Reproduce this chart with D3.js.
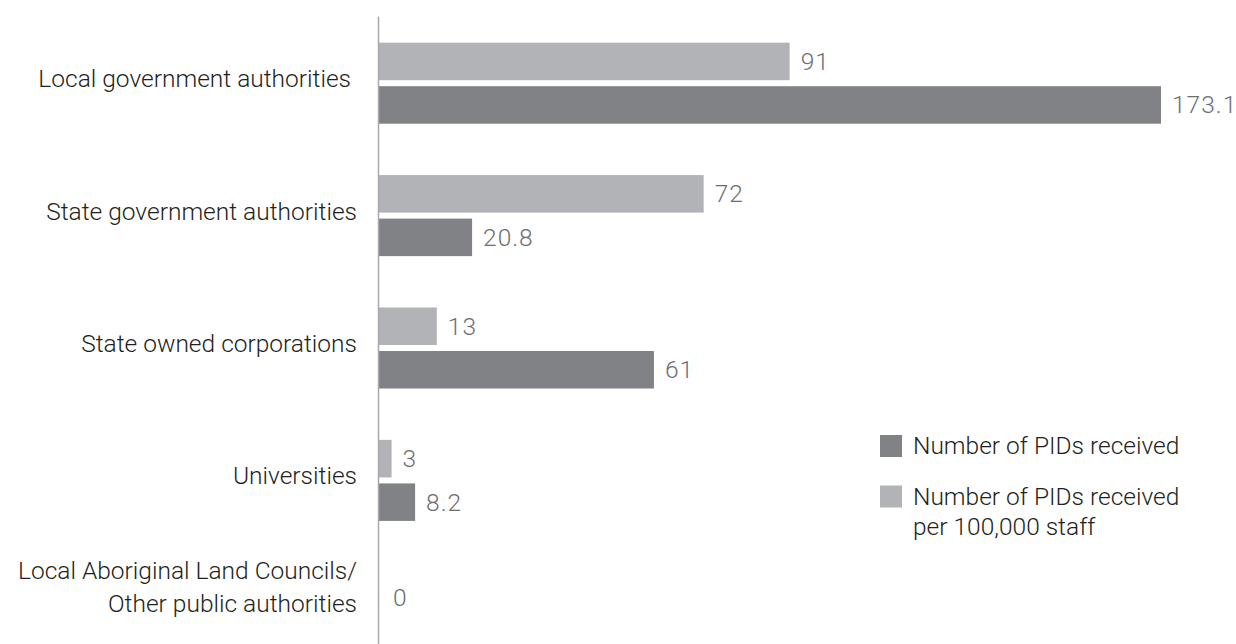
<!DOCTYPE html>
<html>
<head>
<meta charset="utf-8">
<script src="https://cdn.jsdelivr.net/npm/d3@7"></script>
<style>
  html, body { margin: 0; padding: 0; background: #fff; }
  svg { display: block; }
  text { font-family: Roboto, "Liberation Sans", sans-serif; font-weight: 300; }
</style>
</head>
<body>
<svg id="chart" width="1236" height="644"></svg>
<script>
const categories = [
  ["Local government authorities\u00a0"],
  ["State government authorities"],
  ["State owned corporations"],
  ["Universities"],
  ["Local Aboriginal Land Councils/", "Other public authorities"]
];
const perStaff = [91, 72, 13, 3, 0];
const received = [173.1, 20.8, 61, 8.2, 0];
const seriesNames = ["Number of PIDs received", "Number of PIDs received\nper 100,000 staff"];

const colors = { received: "#808285", perStaff: "#b1b3b6" };
const FS = 24.5;

const svg = d3.select("#chart");
const axisX = 378;

const x = d3.scaleLinear().domain([0, 173.1]).range([axisX, 1161]);
const catKeys = categories.map((c, i) => i);
const y = d3.scaleBand().domain(catKeys).range([17, 679]).paddingInner(0.388).paddingOuter(0.194);
const sub = d3.scaleBand().domain(["perStaff", "received"]).range([0, y.bandwidth()]).paddingInner(0.138);

const rows = catKeys.map(i => ({ i, perStaff: perStaff[i], received: received[i] }));

// bars
const g = svg.append("g");
rows.forEach(r => {
  const bothZero = !r.perStaff && !r.received;
  ["perStaff", "received"].forEach(k => {
    const v = r[k];
    if (!v) return;
    const y0 = y(r.i) + sub(k);
    g.append("rect")
      .attr("x", x(0)).attr("y", y0)
      .attr("width", x(v) - x(0)).attr("height", sub.bandwidth())
      .attr("fill", colors[k]);
    g.append("text")
      .attr("x", x(v) + 11).attr("y", y0 + sub.bandwidth() / 2 + 8.5)
      .attr("font-size", FS).attr("fill", "#6d6e71").attr("letter-spacing", 1)
      .text(d3.format("")(v));
  });
  if (bothZero) {
    g.append("text")
      .attr("x", x(0) + 15).attr("y", y(r.i) + y.bandwidth() / 2 - 15 + 8.5)
      .attr("font-size", FS).attr("fill", "#6d6e71")
      .text("0");
  }
});

// axis line
const yAxis = d3.axisLeft(d3.scaleLinear().range([16, 644])).ticks(0).tickSize(0);
const ag = svg.append("g").attr("transform", `translate(${axisX},0)`).call(yAxis);
ag.select(".domain").attr("stroke", "#a7a9ac").attr("stroke-width", 1.5);

// category labels
rows.forEach(r => {
  const lines = categories[r.i];
  const cy = y(r.i) + y.bandwidth() / 2;
  const lh = 33;
  const center = lines.length > 1 ? cy - 26 : cy - 4.5;
  const firstBase = center + 8.5 - (lines.length - 1) * lh / 2;
  const t = svg.append("text").attr("text-anchor", "end").attr("font-size", FS).attr("fill", "#231f20");
  lines.forEach((ln, j) => {
    t.append("tspan").attr("x", 357).attr("y", firstBase + j * lh).text(ln);
  });
});

// legend
const legend = svg.append("g");
const legItems = [
  { key: "received", name: seriesNames[0], y: 435 },
  { key: "perStaff", name: seriesNames[1], y: 485.5 }
];
legItems.forEach(it => {
  legend.append("rect").attr("x", 880).attr("y", it.y).attr("width", 22).attr("height", 22).attr("fill", colors[it.key]);
  const t = legend.append("text").attr("font-size", FS).attr("fill", "#231f20");
  it.name.split("\n").forEach((ln, j) => {
    t.append("tspan").attr("x", 913).attr("y", it.y + 19 + j * 30).text(ln);
  });
});
</script>
</body>
</html>
